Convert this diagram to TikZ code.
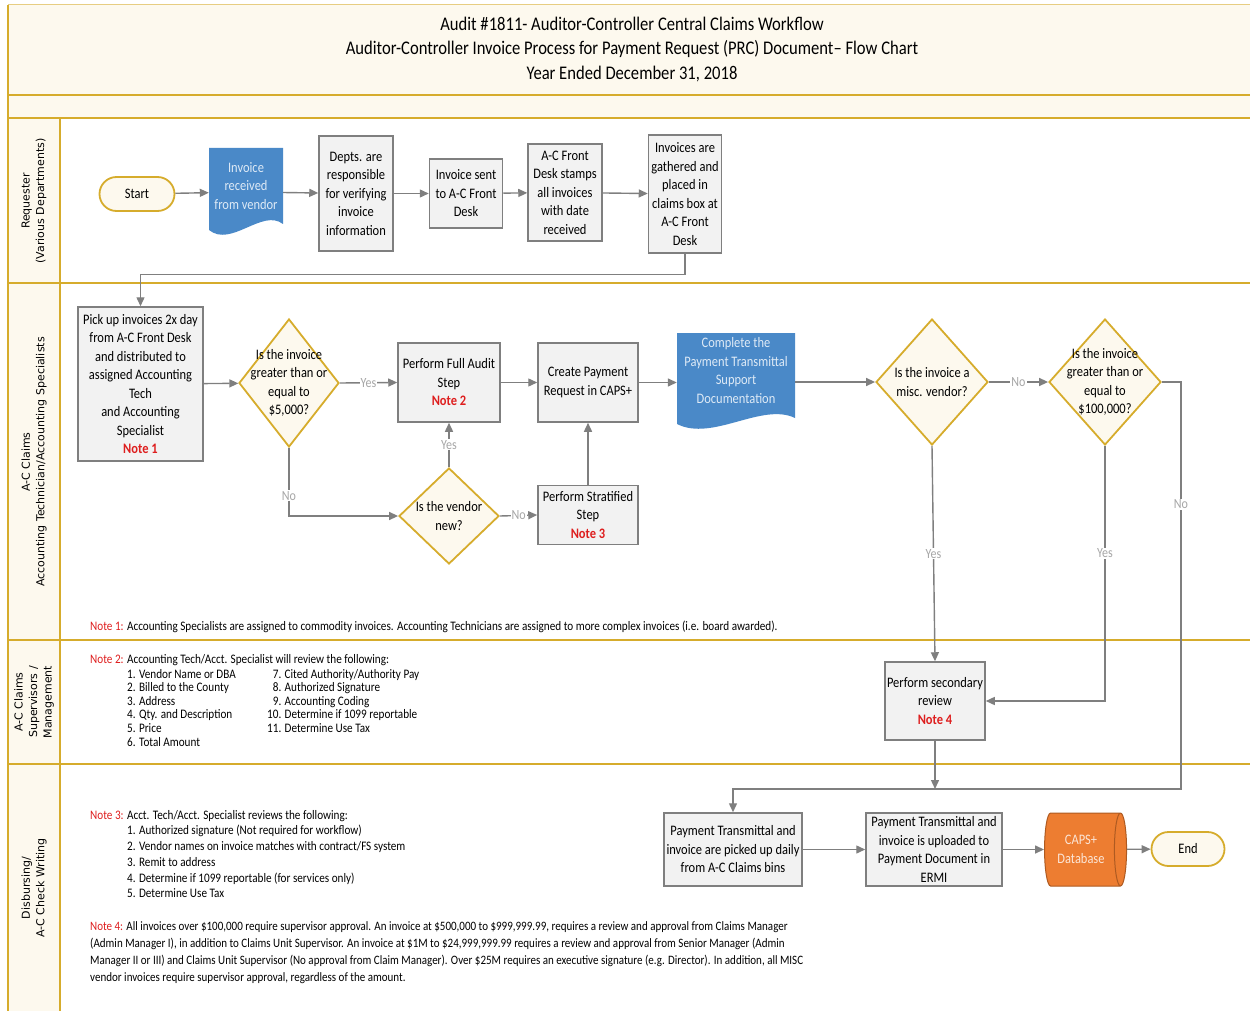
\documentclass[tikz,border=0pt]{standalone}
\usepackage{fontspec}
\setmainfont{Carlito}[FakeStretch=0.86]
\newfontfamily\lanefont{DejaVu Sans}
\usetikzlibrary{positioning}
\usetikzlibrary{shapes.geometric}
\usetikzlibrary{arrows.meta}
\usetikzlibrary{calc}

\definecolor{gold}{RGB}{214,172,44}
\definecolor{cream}{RGB}{253,249,238}
\definecolor{boxgray}{RGB}{127,127,127}
\definecolor{boxfill}{RGB}{242,242,242}
\definecolor{linegray}{RGB}{127,127,127}
\definecolor{labelgray}{RGB}{166,166,166}
\definecolor{docblue}{RGB}{74,137,200}
\definecolor{doctext}{RGB}{222,234,246}
\definecolor{capsorange}{RGB}{237,125,49}
\definecolor{capsedge}{RGB}{174,90,33}
\definecolor{capstext}{RGB}{251,229,214}
\definecolor{notered}{RGB}{222,30,30}

\newcommand\boxfont{\fontsize{14.5}{18.5}\selectfont}
\newcommand\notefont{\fontsize{13}{15.6}\selectfont}
\newcommand\noteref[1]{{\color{notered}\bfseries #1}}
\newcommand\notehead[1]{{\color{notered}#1}}

\tikzset{
  proc/.style={draw=boxgray, fill=boxfill, line width=1.5pt, align=center, inner sep=1pt, font=\boxfont},
  term/.style={draw=gold, fill=cream, line width=1.8pt, rounded corners=17pt, align=center, font=\boxfont},
  decision/.style={diamond, draw=gold, fill=cream, line width=1.8pt, inner sep=0pt},
  asklabel/.style={align=center, font=\boxfont},
  doc/.style={inner sep=0pt, path picture={
      \fill[docblue] (path picture bounding box.north west) -- (path picture bounding box.north east)
        -- ([yshift=12pt]path picture bounding box.south east)
        .. controls ([yshift=28pt]$(path picture bounding box.south west)!0.72!(path picture bounding box.south east)$)
        and ([yshift=-12pt]$(path picture bounding box.south west)!0.3!(path picture bounding box.south east)$)
        .. ([yshift=6pt]path picture bounding box.south west) -- cycle;}},
  doclabel/.style={text=doctext, align=center, font=\boxfont},
  store/.style={cylinder, shape aspect=0.35, draw=capsedge, fill=capsorange, line width=1pt, align=center, text=capstext, font=\boxfont},
  flow/.style={draw=linegray, line width=1.4pt, -{Triangle[length=9pt, width=8pt]}},
  answer/.style={fill=white, text=labelgray, font=\fontsize{14}{16}\selectfont, inner sep=1pt},
  lane/.style={draw=gold, line width=2.2pt},
  lanetitle/.style={rotate=90, align=center, font=\lanefont\fontsize{11}{14.5}\selectfont},
  note/.style={anchor=north west, align=left, inner sep=0pt, font=\notefont}
}

\begin{document}
\begin{tikzpicture}[x=1pt, y=-1pt]
  \useasboundingbox (0,0) rectangle (1250,1011);

  % title band and lanes
  \fill[cream] (8,5) rectangle (1250,118);
  \fill[cream] (8,118) rectangle (60,1011);
  \draw[gold!60, line width=1pt] (8,5) -- (1250,5);
  \foreach \y in {95,118,283,640,764}
    \draw[lane] (8,\y) -- (1250,\y);
  \draw[lane] (8,5) -- (8,1011);
  \draw[lane] (60,118) -- (60,1011);

  \node[align=center, font=\fontsize{19.3}{24.5}\selectfont] (title) at (632,49.5)
    {Audit \#1811- Auditor-Controller Central Claims Workflow\\
     Auditor-Controller Invoice Process for Payment Request (PRC) Document-- Flow Chart\\
     Year Ended December 31, 2018};

  \node[lanetitle] (lane1) at (34,201) {Requester\\(Various Departments)};
  \node[lanetitle] (lane2) at (34,462) {A-C Claims\\Accounting Technician/Accounting Specialists};
  \node[lanetitle] (lane3) at (34,702) {A-C Claims\\Supervisors /\\Management};
  \node[lanetitle] (lane4) at (34,888) {Disbursing/\\A-C Check Writing};

  % requester row
  \node[term, minimum width=75pt, minimum height=34pt] (start) at (137,194) {Start};
  \node[doc, minimum width=74pt, minimum height=88pt,
        label={[doclabel, yshift=6pt]center:Invoice\\received\\from vendor}] (invoice) at (246,192) {};
  \node[proc, minimum width=74pt, minimum height=115pt] (depts) at (356,193.5)
    {Depts. are\\responsible\\for verifying\\invoice\\information};
  \node[proc, minimum width=73pt, minimum height=69pt] (sent) at (466,193.5)
    {Invoice sent\\to A-C Front\\Desk};
  \node[proc, minimum width=74pt, minimum height=97pt] (stamps) at (565,192.5)
    {A-C Front\\Desk stamps\\all invoices\\with date\\received};
  \node[proc, minimum width=73pt, minimum height=118pt] (gathered) at (685,194)
    {Invoices are\\gathered and\\placed in\\claims box at\\A-C Front\\Desk};

  % claims row
  \node[proc, minimum width=125pt, minimum height=154pt] (pickup) at (140.5,384)
    {Pick up invoices 2x day\\from A-C Front Desk\\and distributed to\\assigned Accounting\\Tech\\and Accounting\\Specialist\\\noteref{Note 1}};
  \node[decision, minimum width=100pt, minimum height=128pt,
        label={[asklabel]center:Is the invoice\\greater than or\\equal to\\\$5,000?}] (ask5k) at (289,383) {};
  \node[proc, minimum width=102pt, minimum height=79pt] (fullaudit) at (449,382.5)
    {Perform Full Audit\\Step\\\noteref{Note 2}};
  \node[proc, minimum width=100pt, minimum height=79pt] (create) at (588,382.5)
    {Create Payment\\Request in CAPS+};
  \node[doc, minimum width=118pt, minimum height=97pt,
        label={[doclabel, yshift=11pt]center:Complete the\\Payment Transmittal\\Support\\Documentation}] (complete) at (736,381.5) {};
  \node[decision, minimum width=112pt, minimum height=126pt,
        label={[asklabel]center:Is the invoice a\\misc. vendor?}] (askmisc) at (932,382) {};
  \node[decision, minimum width=112pt, minimum height=126pt,
        label={[asklabel]center:Is the invoice\\greater than or\\equal to\\\$100,000?}] (ask100k) at (1105,382) {};
  \node[decision, minimum width=100pt, minimum height=96pt,
        label={[asklabel]center:Is the vendor\\new?}] (asknew) at (449,516) {};
  \node[proc, minimum width=100pt, minimum height=59pt] (stratified) at (588,515)
    {Perform Stratified\\Step\\\noteref{Note 3}};

  % supervisors and disbursing rows
  \node[proc, minimum width=100pt, minimum height=78pt] (secondary) at (935,701)
    {Perform secondary\\review\\\noteref{Note 4}};
  \coordinate (merge) at (935,789);
  \node[proc, minimum width=138pt, minimum height=73pt] (picked) at (733,849.5)
    {Payment Transmittal and\\invoice are picked up daily\\from A-C Claims bins};
  \node[proc, minimum width=136pt, minimum height=73pt] (uploaded) at (934,849.5)
    {Payment Transmittal and\\invoice is uploaded to\\Payment Document in\\ERMI};
  \node[store, minimum width=73pt, minimum height=82pt] (caps) at (1081,849.5) {CAPS+\\Database};
  \node[term, minimum width=73pt, minimum height=34pt] (end) at (1188,849) {End};

  % connectors
  \draw[flow] (start) -- (invoice);
  \draw[flow] (invoice) -- (depts);
  \draw[flow] (depts) -- (sent);
  \draw[flow] (sent) -- (stamps);
  \draw[flow] (stamps) -- (gathered);
  \draw[flow] (gathered.south) -- ++(0,21) -| (pickup.north);
  \draw[flow] (pickup) -- (ask5k);
  \draw[flow] (ask5k.east) -- node[answer] {Yes} (fullaudit.west);
  \draw[flow] (ask5k.south) |- node[answer, pos=0.35] {No} (asknew.west);
  \draw[flow] (asknew.north) -- node[answer] {Yes} (fullaudit.south);
  \draw[flow] (asknew.east) -- node[answer] {No} (stratified.west);
  \draw[flow] (stratified) -- (create);
  \draw[flow] (fullaudit) -- (create);
  \draw[flow] (create.east) -- (create.east -| complete.west);
  \draw[flow] (complete.east |- askmisc.west) -- (askmisc.west);
  \draw[flow] (askmisc.east) -- node[answer] {No} (ask100k.west);
  \draw[flow] (askmisc.south) -- node[answer] {Yes} (secondary.north);
  \draw[flow] (ask100k.south) |- node[answer, pos=0.21] {Yes} (secondary.east);
  \draw[flow] (ask100k.east) -- ++(19,0) |- node[answer, pos=0.15] {No} (picked.north |- merge) -- (picked.north);
  \draw[flow] (secondary.south) -- (merge);
  \draw[flow] (picked) -- (uploaded);
  \draw[flow] (uploaded) -- (caps);
  \draw[flow] (caps) -- (end);

  % notes
  \node[note, anchor=base west] (note1) at (90,630)
    {\notehead{Note 1:} Accounting Specialists are assigned to commodity invoices. Accounting Technicians are assigned to more complex invoices (i.e. board awarded).};
  \node[note, anchor=base west] (note2) at (90,663)
    {\notehead{Note 2:} Accounting Tech/Acct. Specialist will review the following:};
  \node[note] (note2list) at (127,667)
    {\begin{tabular}{@{}p{140pt}@{}r@{ }l@{}}
      1. Vendor Name or DBA & 7. & Cited Authority/Authority Pay\\[-2pt]
      2. Billed to the County & 8. & Authorized Signature\\[-2pt]
      3. Address & 9. & Accounting Coding\\[-2pt]
      4. Qty. and Description & 10. & Determine if 1099 reportable\\[-2pt]
      5. Price & 11. & Determine Use Tax\\[-2pt]
      6. Total Amount & &
     \end{tabular}};
  \node[note, anchor=base west] (note3) at (90,819)
    {\notehead{Note 3:} Acct. Tech/Acct. Specialist reviews the following:};
  \node[note, font=\fontsize{13}{15.8}\selectfont] (note3list) at (127,825)
    {1. Authorized signature (Not required for workflow)\\
     2. Vendor names on invoice matches with contract/FS system\\
     3. Remit to address\\
     4. Determine if 1099 reportable (for services only)\\
     5. Determine Use Tax};
  \node[note, font=\fontsize{12.8}{17}\selectfont] (note4) at (90,921)
    {\notehead{Note 4:} All invoices over \$100,000 require supervisor approval. An invoice at \$500,000 to \$999,999.99, requires a review and approval from Claims Manager\\
     (Admin Manager I), in addition to Claims Unit Supervisor. An invoice at \$1M to \$24,999,999.99 requires a review and approval from Senior Manager (Admin\\
     Manager II or III) and Claims Unit Supervisor (No approval from Claim Manager). Over \$25M requires an executive signature (e.g. Director). In addition, all MISC\\
     vendor invoices require supervisor approval, regardless of the amount.};
\end{tikzpicture}
\end{document}
